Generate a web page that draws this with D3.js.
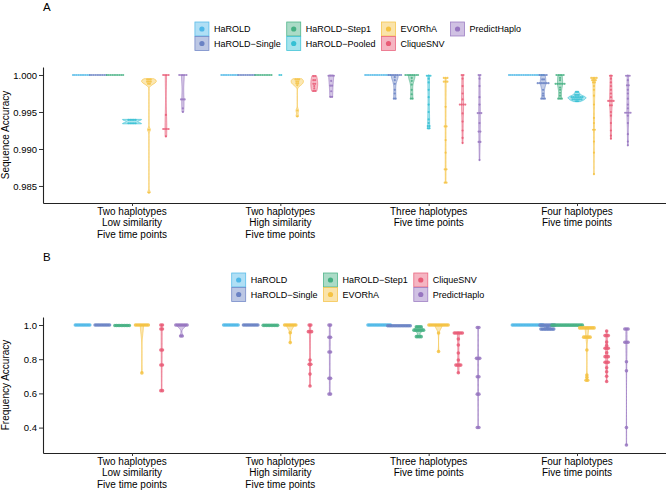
<!DOCTYPE html>
<html><head><meta charset="utf-8">
<script src="https://cdn.jsdelivr.net/npm/d3@7/dist/d3.min.js"></script>
<style>
body{margin:0;background:#fff}
text{font-family:"Liberation Sans",Arial,Helvetica,sans-serif;fill:#000}
</style>
</head><body>
<svg id="chart" width="666" height="490"></svg>
<script>
// ---------- data ----------
const categoryLabels = [
  ["Two haplotypes","Low similarity","Five time points"],
  ["Two haplotypes","High similarity","Five time points"],
  ["Three haplotypes","Five time points"],
  ["Four haplotypes","Five time points"]
];
const methodsA = ["HaROLD","HaROLD\u2212Single","HaROLD\u2212Step1","HaROLD\u2212Pooled","EVORhA","CliqueSNV","PredictHaplo"];
const methodsB = ["HaROLD","HaROLD\u2212Single","HaROLD\u2212Step1","EVORhA","CliqueSNV","PredictHaplo"];
const seqTicks = [0.985,0.990,0.995,1.000];
const freqTicks = [0.4,0.6,0.8,1.0];

// Panel A : sequence accuracy (one array per category)
const seqHaROLD = [
  [1,1,1,1,1,1,1,1,1,1],
  [1,1,1,1,1,1,1,1,1,1],
  [1,1,1,1,1,1,1,1,1,1,1,1,1,1,1],
  [1,1,1,1,1,1,1,1,1,1,1,1,1,1,1,1,1,1,1,1]
];
const seqHaROLDSingle = [
  [1,1,1,1,1,1,1,1,1,1],
  [1,1,1,1,1,1,1,1,1,1],
  [1,1,1,1,1,1,1,1,0.9997,0.9993,0.9988,0.9980,0.9975,0.9968,0.9968],
  [1,1,1,1,1,0.9995,0.9993,0.9990,0.9988,0.9988,0.9988,0.9988,0.9988,0.9988,0.9980,0.9975,0.9972,0.9968,0.9968,0.9968]
];
const seqHaROLDStep1 = [
  [1,1,1,1,1,1,1,1,1,1],
  [1,1,1,1,1,1,1,1,1,1],
  [1,1,1,1,1,1,1,1,0.9996,0.9992,0.9987,0.9980,0.9974,0.9968,0.9968],
  [1,1,1,1,1,0.9996,0.9993,0.9988,0.9988,0.9988,0.9988,0.9988,0.9988,0.9983,0.9980,0.9976,0.9972,0.9968,0.9968,0.9968]
];
const seqHaROLDPooled = [
  [0.9940,0.9940,0.9940,0.9940,0.99385,0.99355,0.9934,0.9934,0.9934,0.9934],
  [1,1],
  [1,1,0.9998,0.9995,0.9990,0.9980,0.9970,0.9960,0.9950,0.9940,0.9935,0.9932,0.9930,0.9929,0.9927],
  [0.9978,0.9976,0.9974,0.9973,0.9972,0.9971,0.9971,0.9970,0.9970,0.9970,0.9969,0.9969,0.9968,0.9968,0.9967,0.9967,0.9966,0.9966,0.9965,0.9964]
];
const seqEVORhA = [
  [0.9995,0.9994,0.9993,0.9992,0.9991,0.9990,0.9989,0.9987,0.9926,0.9841],
  [0.9995,0.9994,0.9993,0.9992,0.9990,0.9989,0.9988,0.9986,0.9952,0.9944],
  [0.9996,0.9996,0.9996,0.9991,0.9991,0.9991,0.9957,0.9931,0.9930,0.9912,0.9895,0.9873,0.9872,0.9855,0.9854],
  [0.9996,0.9996,0.9996,0.9996,0.9993,0.9993,0.9993,0.9990,0.9990,0.9985,0.9980,0.9972,0.9960,0.9942,0.9935,0.9926,0.9926,0.9910,0.9895,0.9866]
];
const seqCliqueSNV = [
  [1,1,1,1,0.9946,0.9928,0.9927,0.9927,0.9926,0.9917],
  [0.9999,0.9998,0.9993,0.9993,0.9988,0.9988,0.9985,0.9982,0.9979,0.9978],
  [1,1,0.9995,0.9985,0.9975,0.9967,0.9961,0.9960,0.9960,0.9959,0.9948,0.9937,0.9925,0.9915,0.9908],
  [1,0.9998,0.9995,0.9990,0.9985,0.9980,0.9975,0.9970,0.9966,0.9965,0.9965,0.9964,0.9960,0.9958,0.9950,0.9945,0.9935,0.9925,0.9918,0.9914]
];
const seqPredictHaplo = [
  [1,1,1,1,1,0.9968,0.9967,0.9966,0.9955,0.9950],
  [1,1,1,0.9998,0.9992,0.9986,0.9985,0.9978,0.9971,0.9970],
  [1,1,0.9995,0.9985,0.9970,0.9960,0.9949,0.9949,0.9948,0.9935,0.9924,0.9923,0.9910,0.9909,0.9885],
  [1,1,0.9998,0.9993,0.9987,0.9985,0.9980,0.9975,0.9968,0.9960,0.9955,0.9950,0.9949,0.9949,0.9948,0.9945,0.9935,0.9920,0.9910,0.9905]
];

// Panel B : frequency accuracy
const freqHaROLD = [
  [1,1,1,1,1,1,1,1,1,1],
  [1,1,1,1,1,1,1,1,1,1],
  [1,1,1,1,1,1,1,1,1,1,1,1,1,1,1],
  [1,1,1,1,1,1,1,1,1,1,1,1,1,1,1,1,1,1,1,1]
];
const freqHaROLDSingle = [
  [1,1,1,1,1,1,1,1,1,1],
  [1,1,1,1,1,1,1,1,1,1],
  [0.996,0.996,0.996,0.996,0.996,0.996,0.996,0.996,0.996,0.996,0.996,0.996,0.996,0.996,0.996],
  [1,1,1,1,1,1,0.998,0.998,0.998,0.998,0.99,0.98,0.972,0.972,0.972,0.972,0.972,0.972,0.972,0.972]
];
const freqHaROLDStep1 = [
  [0.997,0.997,0.997,0.997,0.997,0.997,0.997,0.997,0.997,0.997],
  [0.998,0.998,0.998,0.998,0.998,0.998,0.998,0.998,0.998,0.998],
  [0.99,0.99,0.99,0.99,0.97,0.97,0.97,0.97,0.97,0.97,0.97,0.932,0.932,0.932,0.932],
  [0.999,0.999,0.999,0.999,0.999,0.999,0.999,0.999,0.999,0.999,0.999,0.999,0.999,0.999,0.999,0.999,0.999,0.999,0.999,0.999]
];
const freqEVORhA = [
  [1,1,1,1,1,1,1,1,1,0.72],
  [1,1,1,1,1,1,1,1,0.955,0.897],
  [1,1,1,1,1,1,1,1,1,1,1,1,1,0.953,0.845],
  [0.986,0.986,0.986,0.986,0.986,0.986,0.986,0.986,0.986,0.98,0.93,0.93,0.93,0.93,0.928,0.854,0.708,0.694,0.68,0.673]
];
const freqCliqueSNV = [
  [1,1,0.978,0.976,0.855,0.853,0.767,0.765,0.617,0.615],
  [1,0.999,0.962,0.961,0.96,0.795,0.771,0.769,0.713,0.643],
  [0.958,0.957,0.956,0.951,0.95,0.949,0.918,0.883,0.836,0.795,0.767,0.766,0.765,0.764,0.721],
  [0.965,0.939,0.938,0.937,0.9,0.88,0.865,0.864,0.863,0.838,0.816,0.815,0.814,0.783,0.782,0.781,0.75,0.727,0.7,0.67]
];
const freqPredictHaplo = [
  [1,1,1,1,1,1,1,1,0.937,0.935],
  [1,0.999,0.929,0.927,0.843,0.841,0.689,0.687,0.597,0.595],
  [0.986,0.985,0.806,0.805,0.804,0.698,0.697,0.596,0.595,0.401,0.4],
  [0.978,0.977,0.976,0.9,0.899,0.898,0.785,0.732,0.4,0.298]
];

const palette = {
  "HaROLD":"#4FB8E8",
  "HaROLD\u2212Single":"#6A82C4",
  "HaROLD\u2212Step1":"#45B083",
  "HaROLD\u2212Pooled":"#35C0D4",
  "EVORhA":"#F5C242",
  "CliqueSNV":"#E95C77",
  "PredictHaplo":"#9775C0"
};

// ---------- drawing ----------
const svg = d3.select("#chart");
const FONT = '"Liberation Sans",Arial,Helvetica,sans-serif';

function nrd0(v){
  const s = v.slice().sort(d3.ascending);
  const n = s.length;
  const sd = d3.deviation(s) || 0;
  const iqr = d3.quantile(s,0.75) - d3.quantile(s,0.25);
  let lo = Math.min(sd, iqr/1.34);
  if(!lo) lo = sd || Math.abs(s[0]) || 1;
  return 0.9*lo*Math.pow(n,-0.2);
}
function kde(v){
  const lo = d3.min(v), hi = d3.max(v);
  if(hi - lo <= 0) return null;
  const bw = nrd0(v), n = v.length;
  const pts = d3.range(81).map(i => {
    const y = lo + (hi-lo)*i/80;
    let s = 0;
    for(const x of v){ const z=(y-x)/bw; s += Math.exp(-0.5*z*z); }
    return {v:y, d: s/(n*bw*Math.sqrt(2*Math.PI))};
  });
  return pts;
}
function bins(v, bw){
  const s = v.slice().sort(d3.descending);
  const out = [];
  let cur = null;
  for(const x of s){
    if(cur && cur.start - x <= bw){ cur.vals.push(x); }
    else { cur = {start:x, vals:[x]}; out.push(cur); }
  }
  return out.map(b => ({v:(d3.max(b.vals)+d3.min(b.vals))/2, k:b.vals.length}));
}

function drawPanel(cfg){
  const g = svg.append("g");
  const x = d3.scalePoint().domain(d3.range(categoryLabels.length)).range([43,666]).padding(0.6);
  const step = x.step();
  const dodge = d3.scaleBand().domain(cfg.methods).range([-0.4*step, 0.4*step]);
  const y = d3.scaleLinear().domain(cfg.domain).range([cfg.bottom, cfg.top]);

  // panel label
  g.append("text").attr("x",43).attr("y",cfg.labelY).attr("font-size",11.5).text(cfg.label);

  // legend
  const leg = g.append("g");
  const cols = Math.ceil(cfg.methods.length/2);
  const tmp = svg.append("text").attr("font-size",9).style("font-family",FONT);
  const widthOf = s => { tmp.text(s); return tmp.node().getComputedTextLength(); };
  let colWidths = [];
  for(let c=0;c<cols;c++){
    const items = cfg.methods.slice(c*2, c*2+2);
    colWidths.push(14 + 5 + d3.max(items, widthOf) + 6);
  }
  tmp.remove();
  const total = d3.sum(colWidths) - 6;
  let cx0 = 358 - total/2;
  cfg.methods.forEach((m,i) => {
    const c = Math.floor(i/2), r = i%2;
    const kx = cx0 + d3.sum(colWidths.slice(0,c));
    const ky = cfg.legendY + r*14.5;
    const col = palette[m];
    leg.append("rect").attr("x",kx).attr("y",ky).attr("width",14).attr("height",14)
      .attr("fill",col).attr("fill-opacity",0.45).attr("stroke",col).attr("stroke-opacity",0.9).attr("stroke-width",0.8);
    leg.append("circle").attr("cx",kx+7).attr("cy",ky+7).attr("r",2.6).attr("fill",col);
    leg.append("text").attr("x",kx+19).attr("y",ky+10.3).attr("font-size",9).text(m);
  });

  // axes
  const ya = g.append("g").attr("transform","translate(43,0)")
    .call(d3.axisLeft(y).tickValues(cfg.ticks).tickFormat(d3.format(cfg.fmt)).tickSize(4).tickSizeOuter(0).tickPadding(2));
  ya.selectAll("text").attr("font-size",9.5).style("font-family",FONT).attr("fill","#222");
  ya.select(".domain").attr("stroke","#222").attr("stroke-width",1.1);
  ya.selectAll(".tick line").attr("stroke","#333");
  const xa = g.append("g").attr("transform",`translate(0,${cfg.bottom})`)
    .call(d3.axisBottom(x).tickSize(3).tickSizeOuter(0).tickFormat(""));
  xa.select(".domain").attr("stroke","#222").attr("stroke-width",1.1);
  xa.selectAll(".tick line").attr("stroke","#333");
  categoryLabels.forEach((lines,i) => {
    lines.forEach((t,j) => {
      g.append("text").attr("x",x(i)).attr("y",cfg.bottom + 11.6 + j*11.5)
        .attr("text-anchor","middle").attr("font-size",10).attr("fill","#111").text(t);
    });
  });
  g.append("text").attr("transform",`translate(9,${(cfg.top+cfg.bottom)/2}) rotate(-90)`)
    .attr("text-anchor","middle").attr("font-size",10).text(cfg.title);

  // violins
  const groups = [];
  cfg.methods.forEach((m,mi) => {
    cfg.series[mi].forEach((vals,ci) => {
      groups.push({m, ci, vals, cx: x(ci) + dodge(m) + dodge.bandwidth()/2, dens: kde(vals)});
    });
  });
  const maxD = d3.max(groups, gr => gr.dens ? d3.max(gr.dens, p=>p.d) : 0);
  const w = d3.scaleLinear().domain([0,maxD]).range([0, cfg.maxHalf]);
  const vg = g.append("g");
  groups.forEach(gr => {
    if(!gr.dens) return;
    const col = palette[gr.m];
    const area = d3.area()
      .x0(p => gr.cx - w(p.d)).x1(p => gr.cx + w(p.d)).y(p => y(p.v));
    vg.append("path").attr("d", area(gr.dens))
      .attr("fill",col).attr("fill-opacity",0.4)
      .attr("stroke",col).attr("stroke-width",0.7).attr("stroke-opacity",0.9);
  });
  // dots (dot plot, centered stacks)
  const dg = g.append("g");
  groups.forEach(gr => {
    const col = palette[gr.m];
    bins(gr.vals, cfg.binw).forEach(b => {
      for(let j=0;j<b.k;j++){
        dg.append("circle").attr("cx", gr.cx + (j-(b.k-1)/2)*cfg.dotStep).attr("cy", y(b.v))
          .attr("r", cfg.dotR).attr("fill", col).attr("fill-opacity",0.85);
      }
    });
  });
}

drawPanel({
  label:"A", labelY:10.5, legendY:22, top:67, bottom:203,
  domain:[0.98270,1.00108], ticks:seqTicks, fmt:".3f",
  title:"Sequence Accuracy", methods:methodsA,
  series:[seqHaROLD,seqHaROLDSingle,seqHaROLDStep1,seqHaROLDPooled,seqEVORhA,seqCliqueSNV,seqPredictHaplo],
  maxHalf:9.5, binw:0.00025, dotR:1.1, dotStep:1.8
});
drawPanel({
  label:"B", labelY:260.5, legendY:273, top:317, bottom:453,
  domain:[0.2515,1.0468], ticks:freqTicks, fmt:".1f",
  title:"Frequency Accuracy", methods:methodsB,
  series:[freqHaROLD,freqHaROLDSingle,freqHaROLDStep1,freqEVORhA,freqCliqueSNV,freqPredictHaplo],
  maxHalf:7, binw:0.01, dotR:1.8, dotStep:1.6
});
</script>
</body></html>
